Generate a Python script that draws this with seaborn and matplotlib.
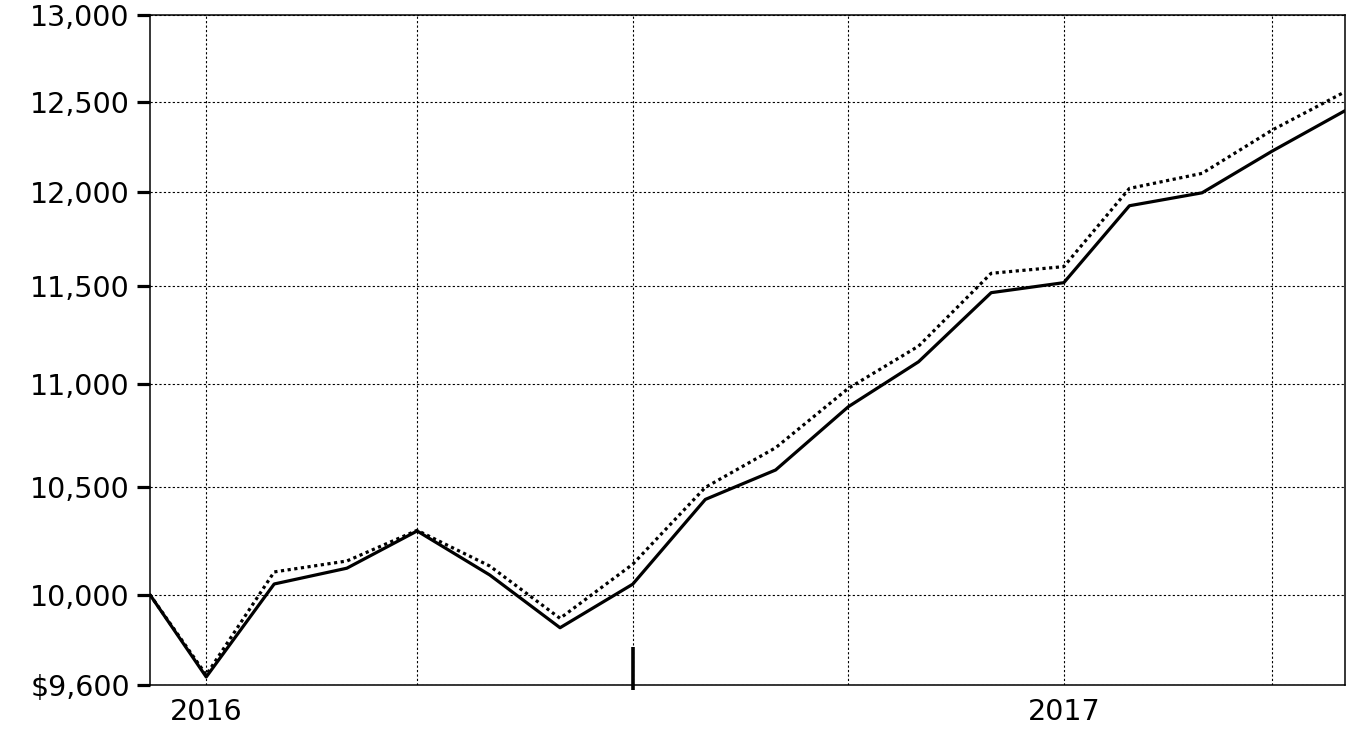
import pandas as pd
import matplotlib.pyplot as plt
import matplotlib.ticker as mticker
import seaborn as sns

# inception value, then month-end values
dates = ['2016-01-07', '2016-01-31', '2016-02-29', '2016-03-31', '2016-04-30',
         '2016-05-31', '2016-06-30', '2016-07-31', '2016-08-31', '2016-09-30',
         '2016-10-31', '2016-11-30', '2016-12-31', '2017-01-31', '2017-02-28',
         '2017-03-31', '2017-04-30', '2017-05-31']
fund = [10000, 9635, 10049, 10121, 10293, 10090, 9852, 10048, 10441, 10581,
        10888, 11112, 11465, 11517, 11925, 11995, 12224, 12449]
index = [10000, 9644, 10104, 10154, 10296, 10131, 9894, 10139, 10498, 10688,
         10979, 11191, 11566, 11601, 12019, 12101, 12341, 12556]

y_ticks = [9600, 10000, 10500, 11000, 11500, 12000, 12500, 13000]
y_labels = ['$9,600', '10,000', '10,500', '11,000', '11,500', '12,000', '12,500', '13,000']
grid_dates = ['2016-01-31', '2016-04-30', '2016-07-31', '2016-10-31', '2017-01-31', '2017-04-30']
grid_labels = ['2016', '', '', '', '2017', '']
marker_date = '2016-07-31'

df = pd.DataFrame({'date': pd.to_datetime(dates), 'fund': fund, 'index': index})

sns.set_style('white')
plt.rcParams['font.family'] = ['DejaVu Sans']

fig = plt.figure(figsize=(13.63, 7.40), dpi=100)
ax = fig.add_axes([150 / 1363, 55 / 740, 1195 / 1363, 670 / 740])

sns.lineplot(data=df, x='date', y='index', ax=ax, color='black', lw=2.3,
             dashes=False, linestyle=(0, (1, 1.1)), zorder=3)
sns.lineplot(data=df, x='date', y='fund', ax=ax, color='black', lw=2.3, zorder=4)

ax.set_yscale('log')
ax.set_ylim(9600, 13000)
ax.set_yticks(y_ticks, y_labels)
ax.yaxis.set_minor_locator(mticker.NullLocator())
ax.set_xlim(df['date'].iloc[0], df['date'].iloc[-1])
ax.set_xticks(pd.to_datetime(grid_dates), grid_labels)
ax.xaxis.set_minor_locator(mticker.NullLocator())

ax.grid(True, color='black', linestyle=(0, (2, 2)), lw=0.8)
for s in ax.spines.values():
    s.set_visible(True)
    s.set_color('black')
    s.set_linewidth(1.1)

ax.tick_params(axis='y', which='major', left=True, length=9.5, width=2.3,
               color='black', pad=5, labelsize=20.5, labelcolor='black')
ax.tick_params(axis='x', which='major', bottom=False, length=0, pad=9,
               labelsize=20.5, labelcolor='black')

ax.axvline(pd.to_datetime(marker_date), ymin=-0.008, ymax=0.056, color='black',
           lw=2.6, clip_on=False, zorder=5, solid_capstyle='butt')

ax.set_xlabel('')
ax.set_ylabel('')
fig.savefig('out.png', dpi=100)
